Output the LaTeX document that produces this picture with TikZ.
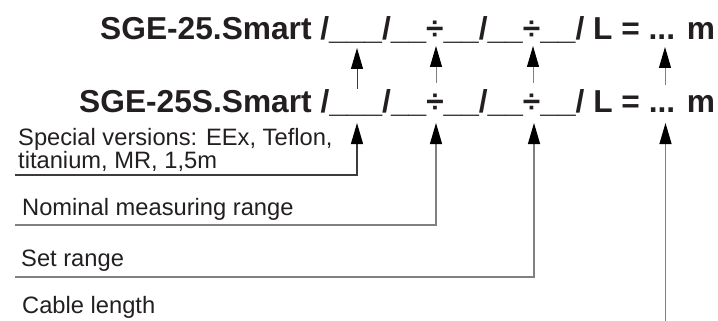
\documentclass[tikz,border=0pt]{standalone}
\usepackage{fontspec}
\setmainfont{Liberation Sans}
\usetikzlibrary{arrows.meta}
\definecolor{txt}{RGB}{35,31,32}
\definecolor{ln}{RGB}{128,128,128}
\definecolor{lndark}{RGB}{60,60,60}
\begin{document}
\begin{tikzpicture}[x=1pt,y=-1pt,
  head/.style={font=\bfseries\fontsize{31.7}{36}\selectfont, text=txt, inner sep=0pt},
  lab/.style={font=\fontsize{23.7}{23}\selectfont, text=txt, inner sep=0pt, anchor=base west},
  arr/.style={-{Triangle[length=21pt,width=12pt,color=black]}, line width=1pt, draw=ln},
  arrdark/.style={arr, draw=lndark},
  lead/.style={line width=1.2pt}]
\useasboundingbox (0,0) rectangle (718,321);
% headings
\node[head, anchor=base west] (h1) at (100,40) {SGE-25.Smart /\_\_\_/\_\_÷\_\_/\_\_÷\_\_/ L = ... m};
\node[head, anchor=base west] (h2) at (79,112) {SGE-25S.Smart /\_\_\_/\_\_÷\_\_/\_\_÷\_\_/ L = ... m};
% labels
\node[lab] (l1a) at (18,145) {Special versions: EEx, Teflon,};
\node[lab] (l1b) at (18,168) {titanium, MR, 1,5m};
\node[lab] (l2) at (22,215) {Nominal measuring range};
\node[lab] (l3) at (21,266) {Set range};
\node[lab] (l4) at (22,313) {Cable length};
% upper arrows (row 2 -> row 1)
\coordinate (u1b) at (357,89);  \coordinate (u1t) at (357,48);
\coordinate (u2b) at (436,83);  \coordinate (u2t) at (436,46);
\coordinate (u3b) at (533,83);  \coordinate (u3t) at (533,46);
\coordinate (u4b) at (665,85);  \coordinate (u4t) at (665,47);
\draw[arrdark] (u1b) -- (u1t);
\draw[arr] (u2b) -- (u2t);
\draw[arr] (u3b) -- (u3t);
\draw[arr] (u4b) -- (u4t);
% lower leaders
\coordinate (s1) at (15,175);  \coordinate (c1) at (357,175); \coordinate (t1) at (357,123);
\coordinate (s2) at (15,225);  \coordinate (c2) at (436,225); \coordinate (t2) at (436,123);
\coordinate (s3) at (15,277);  \coordinate (c3) at (534,277); \coordinate (t3) at (534,123);
\coordinate (s4) at (665.5,321); \coordinate (t4) at (665.5,123);
\draw[arrdark, lead] (s1) -- (c1) -- (t1);
\draw[arr, lead] (s2) -- (c2) -- (t2);
\draw[arr, lead] (s3) -- (c3) -- (t3);
\draw[arr, lead] (s4) -- (t4);
\end{tikzpicture}
\end{document}
